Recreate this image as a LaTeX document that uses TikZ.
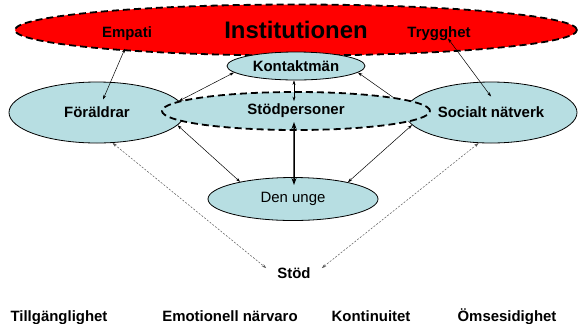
\documentclass[tikz,border=0pt]{standalone}
\usepackage{fontspec}
\setmainfont{Liberation Sans}
\usetikzlibrary{arrows.meta, shapes.geometric}

\definecolor{paleblue}{RGB}{183,222,226}
\definecolor{instred}{RGB}{255,0,0}

\begin{document}
\begin{tikzpicture}[x=1bp,y=-1bp,
  lbl/.style={font=\fontsize{15}{18}\selectfont\bfseries},
  blob/.style={ellipse,draw,line width=.8bp,fill=paleblue,inner sep=0pt},
  bigdash/.style={line width=1.8bp,dash pattern=on 7bp off 4bp},
  link/.style={line width=.5bp,{Stealth[length=4.5bp,width=3bp]}-{Stealth[length=4.5bp,width=3bp]}},
  dotlink/.style={link,gray!70!black,dash pattern=on 2bp off 1.5bp}]
\useasboundingbox (0,0) rectangle (578,323);
% The institution round everything
\node[ellipse,draw,bigdash,fill=instred,inner sep=0pt,minimum width=562bp,minimum height=51bp,
  font=\fontsize{24}{28}\selectfont\bfseries] (inst) at (296,30) {Institutionen};
\node[lbl,anchor=base] (empati) at (127,37.5) {Empati};
\node[lbl,anchor=base] (trygghet) at (439,37.5) {Trygghet};
% Adults round the young person
\node[blob,lbl,minimum width=138bp,minimum height=28bp] (kontakt) at (296,66) {Kontaktmän};
\node[blob,lbl,minimum width=176bp,minimum height=61bp] (foraldrar) at (97,112.5) {Föräldrar};
\node[blob,lbl,minimum width=172bp,minimum height=61bp] (socialt) at (491,112.5) {Socialt nätverk};
% This one runs under the support persons
\draw[line width=.5bp,-{Stealth[length=4.5bp,width=3bp]}] (socialt.176) -- (kontakt.-6);
\node[blob,bigdash,lbl,minimum width=268bp,minimum height=38bp] (stodp) at (296,111) {Stödpersoner};
\node[blob,minimum width=170bp,minimum height=43bp,font=\fontsize{15}{18}\selectfont] (denunge) at (293,199) {Den unge};
\node[lbl,inner xsep=11bp,inner ysep=3bp] (stoed) at (294,273) {Stöd};
% Bottom row
\node[lbl,anchor=base] (tillg) at (59,321) {Tillgänglighet};
\node[lbl,anchor=base] (emot) at (230,321) {Emotionell närvaro};
\node[lbl,anchor=base] (kont) at (371,321) {Kontinuitet};
\node[lbl,anchor=base] (omses) at (507,321) {Ömsesidighet};
% Connections
\draw[link] ([xshift=-2bp,yshift=-11bp]empati.base) -- ([xshift=6bp,yshift=13bp]foraldrar.center);
\draw[link] ([xshift=9bp,yshift=-1bp]trygghet.base) -- ([yshift=16bp]socialt.center);
\draw[link] (kontakt.186) -- (foraldrar.8);
\draw[link] ([xshift=-2bp]kontakt.south) -- ([xshift=-2bp,yshift=-10bp]stodp.north);
\draw[line width=1.5bp,{Stealth[length=7bp,width=5bp]}-{Stealth[length=7bp,width=5bp]}]
  ([xshift=-2bp,yshift=-11bp]stodp.center) -- ([xshift=1bp,yshift=14bp]denunge.center);
\draw[link] (foraldrar.-9) -- (denunge.162);
\draw[link] (socialt.189) -- (denunge.17);
% Dotted lines down to the support
\draw[dotlink] (foraldrar.-63) -- (stoed.170);
\draw[dotlink] (socialt.-112) -- (stoed.10);
\end{tikzpicture}
\end{document}
